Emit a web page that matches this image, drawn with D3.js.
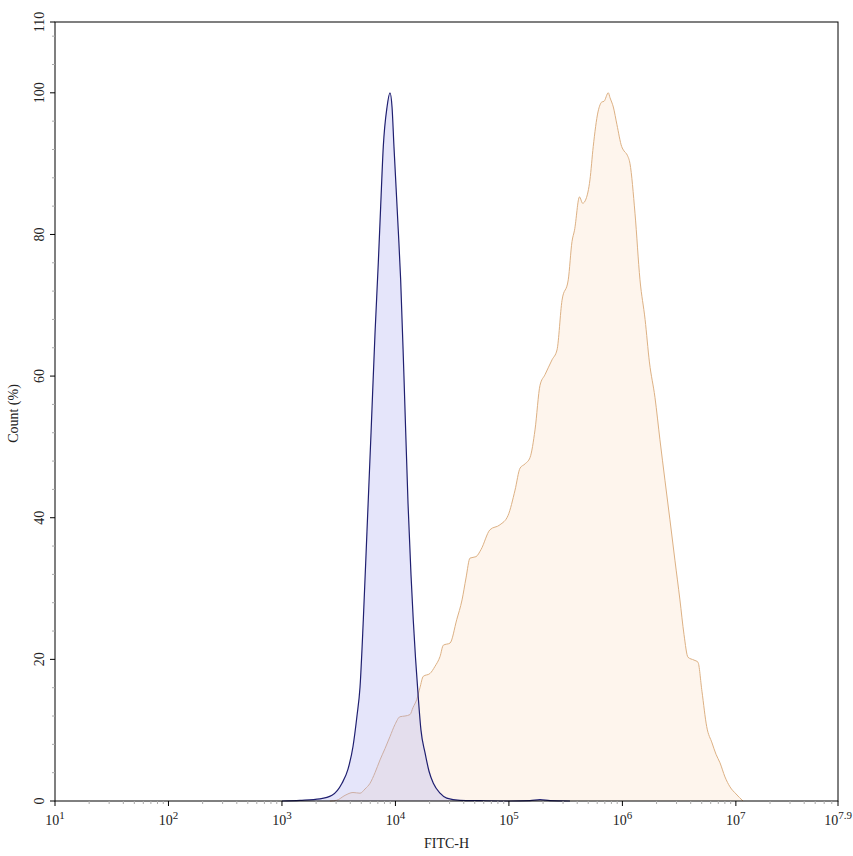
<!DOCTYPE html>
<html>
<head>
<meta charset="utf-8">
<script src="https://cdn.jsdelivr.net/npm/d3@7"></script>
<style>
  body { margin: 0; background: #fff; }
  svg text { font-family: "Liberation Serif", "DejaVu Serif", serif; fill: #222; }
</style>
</head>
<body>
<svg id="chart" width="853" height="856"></svg>
<script>
// log10(FITC-H) and count (%)
var controlExp = [3.000, 3.159, 3.335, 3.441, 3.529, 3.582, 3.626, 3.661, 3.688, 3.717, 3.749, 3.785, 3.820, 3.849, 3.870, 3.893, 3.926, 3.952, 3.970, 3.987, 4.025, 4.046, 4.075, 4.111, 4.137, 4.157, 4.201, 4.225, 4.261, 4.296, 4.334, 4.393, 4.452, 4.569, 4.745, 5.009, 5.186, 5.274, 5.362, 5.538];
var controlCount = [0, 0.1, 0.3, 0.8, 2.5, 4.5, 7.7, 12, 16.1, 25.6, 38, 52, 66, 76, 84, 92.4, 98, 100, 98, 92.4, 80.6, 73.6, 60, 42, 32, 25.6, 14.7, 10, 6.8, 4.2, 2.5, 1.1, 0.4, 0.1, 0.05, 0, 0.05, 0.2, 0.05, 0];

var sampleExp = [3.423, 3.482, 3.556, 3.626, 3.688, 3.732, 3.776, 3.820, 3.864, 3.908, 3.952, 3.996, 4.040, 4.084, 4.128, 4.155, 4.187, 4.216, 4.245, 4.304, 4.348, 4.393, 4.422, 4.481, 4.540, 4.587, 4.622, 4.657, 4.710, 4.754, 4.833, 4.921, 4.992, 5.054, 5.098, 5.142, 5.186, 5.230, 5.274, 5.318, 5.380, 5.424, 5.468, 5.523, 5.556, 5.578, 5.622, 5.650, 5.679, 5.714, 5.743, 5.785, 5.803, 5.818, 5.838, 5.876, 5.891, 5.920, 5.952, 5.994, 6.014, 6.043, 6.067, 6.111, 6.155, 6.200, 6.238, 6.287, 6.331, 6.375, 6.419, 6.463, 6.507, 6.543, 6.578, 6.631, 6.666, 6.701, 6.743, 6.790, 6.825, 6.860, 6.904, 6.948, 7.001, 7.063];
var sampleCount = [0, 0.1, 0.8, 1.2, 1.1, 1.7, 2.5, 4, 5.8, 7.4, 9.1, 10.8, 11.9, 12, 12.2, 13.2, 14.3, 16, 17.6, 18, 19, 20.4, 22, 22.3, 25.6, 28.4, 31.5, 34.3, 34.5, 35.5, 38.3, 39, 40.3, 43.9, 47, 47.6, 48.5, 52.4, 58.7, 60.2, 62.3, 63.7, 70.7, 73.6, 79, 80.6, 85.3, 84.4, 85, 87.7, 92.4, 97.3, 98.3, 98.7, 98.8, 100, 99.3, 98, 95.5, 92.4, 91.8, 91.2, 90, 83, 73.6, 68, 62, 57, 51, 45.3, 39.7, 34, 28.4, 23.5, 20.3, 19.9, 19.6, 15.5, 10.5, 8.2, 6.6, 5.4, 3.4, 2, 1, 0];

var xMajorExp = [1, 2, 3, 4, 5, 6, 7, 7.9];
var xMajorLabels = ["1", "2", "3", "4", "5", "6", "7", "7.9"];
var yMajorTicks = [0, 20, 40, 60, 80, 100, 110];
var xTitle = "FITC-H";
var yTitle = "Count  (%)";

(function () {
  var svg = d3.select('#chart');
  var padL = 55, padR = 838, padT = 22, padB = 801;

  var x = d3.scaleLog().domain([10, Math.pow(10, 7.9)]).range([padL, padR]);
  var y = d3.scaleLinear().domain([0, 110]).range([padB, padT]);

  var control = controlExp.map(function(e, i){ return {v: Math.pow(10, e), c: controlCount[i]}; });
  var sample = sampleExp.map(function(e, i){ return {v: Math.pow(10, e), c: sampleCount[i]}; });

  var area = d3.area()
    .x(function(d){ return x(d.v); })
    .y0(y(0))
    .y1(function(d){ return y(d.c); })
    .curve(d3.curveMonotoneX);
  var line = d3.line()
    .x(function(d){ return x(d.v); })
    .y(function(d){ return y(d.c); })
    .curve(d3.curveMonotoneX);

  // sample (orange)
  svg.append('path').attr('d', area(sample))
    .attr('fill', '#fef5ed');
  svg.append('path').attr('d', line(sample))
    .attr('fill', 'none').attr('stroke', '#ddb184').attr('stroke-width', 1);

  // control (blue)
  svg.append('path').attr('d', area(control))
    .attr('fill', 'rgb(170,170,240)').attr('fill-opacity', 0.3);
  svg.append('path').attr('d', line(control))
    .attr('fill', 'none').attr('stroke', '#1f1f70').attr('stroke-width', 1.2);

  // frame
  svg.append('rect')
    .attr('x', padL).attr('y', padT)
    .attr('width', padR - padL).attr('height', padB - padT)
    .attr('fill', 'none').attr('stroke', '#000').attr('stroke-width', 1);

  // x minor ticks
  var xMinor = [];
  for (var d = 1; d <= 7; d++) {
    for (var m = 2; m <= 9; m++) {
      var v = m * Math.pow(10, d);
      if (v < Math.pow(10, 7.9)) xMinor.push(v);
    }
  }
  svg.append('g').selectAll('line').data(xMinor).join('line')
    .attr('x1', function(d){ return x(d); }).attr('x2', function(d){ return x(d); })
    .attr('y1', padB).attr('y2', padB + 3)
    .attr('stroke', '#aaa').attr('stroke-width', 1);

  // x major ticks + labels
  var xg = svg.append('g');
  xMajorExp.forEach(function(e, i){
    var px = x(Math.pow(10, e));
    xg.append('line').attr('x1', px).attr('x2', px)
      .attr('y1', padB).attr('y2', padB + 5)
      .attr('stroke', '#000');
    var t = xg.append('text')
      .attr('x', px).attr('y', padB + 24)
      .attr('text-anchor', 'middle')
      .attr('font-size', 14);
    t.append('tspan').text('10');
    t.append('tspan').attr('dy', -6).attr('font-size', 11).text(xMajorLabels[i]);
  });

  // y minor ticks
  var yMinor = d3.range(4, 110, 4).filter(function(v){ return yMajorTicks.indexOf(v) < 0; });
  svg.append('g').selectAll('line').data(yMinor).join('line')
    .attr('x1', padL - 3).attr('x2', padL)
    .attr('y1', function(d){ return y(d); }).attr('y2', function(d){ return y(d); })
    .attr('stroke', '#aaa');

  // y major ticks + labels
  var yg = svg.append('g');
  yMajorTicks.forEach(function(v){
    var py = y(v);
    yg.append('line').attr('x1', padL - 5).attr('x2', padL)
      .attr('y1', py).attr('y2', py).attr('stroke', '#000');
    yg.append('text')
      .attr('transform', 'translate(' + (padL - 11) + ',' + py + ') rotate(-90)')
      .attr('text-anchor', 'middle')
      .attr('font-size', 14)
      .text(v);
  });

  // titles
  svg.append('text')
    .attr('x', (padL + padR) / 2).attr('y', 848)
    .attr('text-anchor', 'middle').attr('font-size', 14)
    .text(xTitle);
  svg.append('text')
    .attr('transform', 'translate(18,' + ((padT + padB) / 2 + 2) + ') rotate(-90)')
    .attr('text-anchor', 'middle').attr('font-size', 14)
    .text(yTitle);
})();
</script>
</body>
</html>
